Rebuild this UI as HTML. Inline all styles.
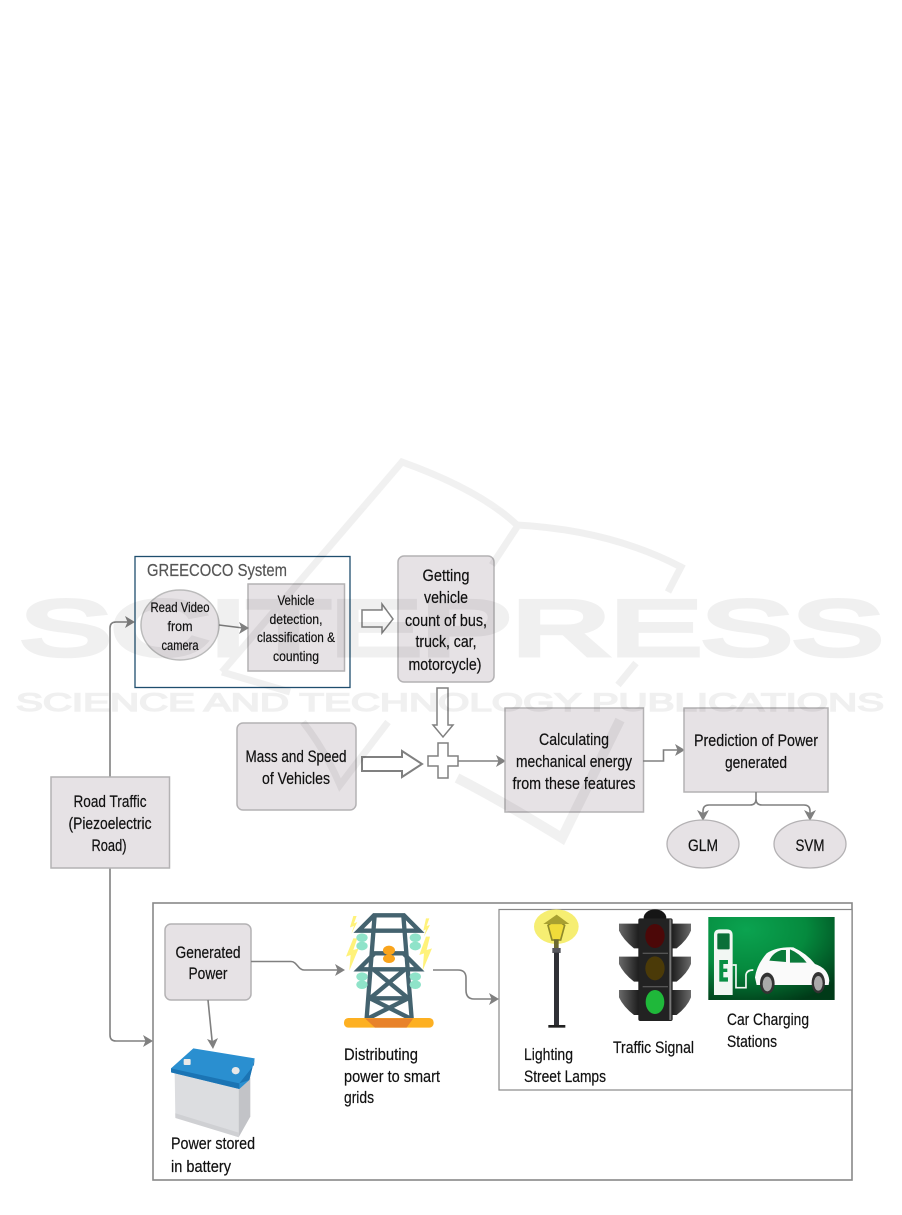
<!DOCTYPE html>
<html><head><meta charset="utf-8"><style>
html,body{margin:0;padding:0;background:#fff}
svg{display:block}
text{font-family:"Liberation Sans",sans-serif;fill:#111;stroke:#111;stroke-width:.2px;font-size:16.500px}
.m{text-anchor:middle}
.s{font-size:14px}
.b{fill:#e6e2e5;stroke:#b4b2b4;stroke-width:1.5}
.c{fill:none;stroke:#808080;stroke-width:1.6}
.a{fill:#808080}
.w{fill:#fff;stroke:#808080;stroke-width:1.5}
</style></head><body>
<svg width="902" height="1215" viewBox="0 0 902 1215" xmlns="http://www.w3.org/2000/svg">
<defs>
<linearGradient id="vl" x1="0" x2="1" y1="0" y2="0"><stop offset="0" stop-color="#6a6a6a"/><stop offset="1" stop-color="#1c1c1c"/></linearGradient>
<linearGradient id="vr" x1="1" x2="0" y1="0" y2="0"><stop offset="0" stop-color="#6a6a6a"/><stop offset="1" stop-color="#1c1c1c"/></linearGradient>
<radialGradient id="g" cx="30%" cy="15%" r="95%"><stop offset="0" stop-color="#0ba350"/><stop offset=".5" stop-color="#058a3e"/><stop offset="1" stop-color="#003a18"/></radialGradient>
</defs>
<rect width="902" height="1215" fill="#fff"/>

<!-- GREECOCO -->
<rect x="135" y="556.500" width="215" height="131" fill="#fff" stroke="#1f4e6e" stroke-width="1.3"/>
<text x="147" y="576" textLength="140" lengthAdjust="spacingAndGlyphs" style="fill:#555;stroke:#555;font-size:17.500px">GREECOCO System</text>
<ellipse cx="180" cy="625" rx="39" ry="35" fill="#e6e2e5" stroke="#bbb" stroke-width="1.5"/>
<text class="m s" x="180" y="612" textLength="59" lengthAdjust="spacingAndGlyphs">Read Video</text>
<text class="m s" x="180" y="631" textLength="25" lengthAdjust="spacingAndGlyphs">from</text>
<text class="m s" x="180" y="650" textLength="37" lengthAdjust="spacingAndGlyphs">camera</text>
<rect class="b" x="248" y="584" width="96.500" height="87"/>
<text class="m s" x="296" y="605" textLength="37" lengthAdjust="spacingAndGlyphs">Vehicle</text>
<text class="m s" x="296" y="624" textLength="53" lengthAdjust="spacingAndGlyphs">detection,</text>
<text class="m s" x="296" y="642" textLength="78" lengthAdjust="spacingAndGlyphs">classification &amp;</text>
<text class="m s" x="296" y="661" textLength="46" lengthAdjust="spacingAndGlyphs">counting</text>
<path class="c" d="M219 625 L243 628"/>
<path class="a" d="M249 628 L239 622 L241.500 628 L239 634Z"/>

<!-- block arrows -->
<path class="w" d="M362 610 H382 V604 L393 619 L382 633 V627 H362Z"/>
<path class="w" d="M437 688 H448 V725 H453 L443 737 L433 725 H437Z"/>
<path class="w" d="M362 757 H402 V751 L422 764 L402 777 V771 H362Z" style="stroke-width:2"/>
<path class="w" d="M438 743 H448 V756 H458 V766 H448 V778 H438 V766 H428 V756 H438Z"/>

<!-- Getting -->
<rect class="b" x="398" y="556" width="96" height="126" rx="6"/>
<text class="m" x="446" y="581" textLength="47" lengthAdjust="spacingAndGlyphs">Getting</text>
<text class="m" x="446" y="603" textLength="44" lengthAdjust="spacingAndGlyphs">vehicle</text>
<text class="m" x="446" y="626" textLength="82" lengthAdjust="spacingAndGlyphs">count of bus,</text>
<text class="m" x="446" y="647" textLength="61" lengthAdjust="spacingAndGlyphs">truck, car,</text>
<text class="m" x="445" y="670" textLength="73" lengthAdjust="spacingAndGlyphs">motorcycle)</text>

<!-- Mass -->
<rect class="b" x="237" y="723" width="119" height="87" rx="6"/>
<text class="m" x="296" y="762" textLength="101" lengthAdjust="spacingAndGlyphs">Mass and Speed</text>
<text class="m" x="296" y="784" textLength="68" lengthAdjust="spacingAndGlyphs">of Vehicles</text>

<!-- Calculating -->
<path class="c" d="M458 761 H500"/>
<path class="a" d="M506 761 L496 755 L498.500 761 L496 767Z"/>
<rect class="b" x="505" y="708" width="138.500" height="104"/>
<text class="m" x="574" y="745" textLength="70" lengthAdjust="spacingAndGlyphs">Calculating</text>
<text class="m" x="574" y="767" textLength="116" lengthAdjust="spacingAndGlyphs">mechanical energy</text>
<text class="m" x="574" y="789" textLength="123" lengthAdjust="spacingAndGlyphs">from these features</text>

<!-- Prediction -->
<path class="c" d="M643 761 H663.500 V750 H680"/>
<path class="a" d="M685 750 L675 744 L677.500 750 L675 756Z"/>
<rect class="b" x="684" y="708" width="144" height="84"/>
<text class="m" x="756" y="746" textLength="124" lengthAdjust="spacingAndGlyphs">Prediction of Power</text>
<text class="m" x="756" y="768" textLength="62" lengthAdjust="spacingAndGlyphs">generated</text>

<path class="c" d="M756 792 V799 Q756 805 750 805 H709 Q703 805 703 811 V816 M756 799 Q756 805 762 805 H804 Q810 805 810 811 V816"/>
<path class="a" d="M703 821 L697 810 L703 813 L709 810Z"/>
<path class="a" d="M810 821 L804 810 L810 813 L816 810Z"/>
<ellipse cx="703" cy="844" rx="36" ry="24" fill="#e6e2e5" stroke="#b4b2b4" stroke-width="1.3"/>
<ellipse cx="810" cy="844" rx="36" ry="24" fill="#e6e2e5" stroke="#b4b2b4" stroke-width="1.3"/>
<text class="m" x="703" y="851" textLength="30" lengthAdjust="spacingAndGlyphs">GLM</text>
<text class="m" x="810" y="851" textLength="29" lengthAdjust="spacingAndGlyphs">SVM</text>

<!-- Road traffic -->
<path class="c" d="M110 777 V628 Q110 622 116 622 H130"/>
<path class="a" d="M135 622 L125 616 L127.500 622 L125 628Z"/>
<path class="c" d="M110 868 V1035 Q110 1041 116 1041 H148"/>
<path class="a" d="M153 1041 L143 1035 L145.500 1041 L143 1047Z"/>
<rect class="b" x="51" y="777" width="118.500" height="91"/>
<text class="m" x="110" y="807" textLength="73" lengthAdjust="spacingAndGlyphs">Road Traffic</text>
<text class="m" x="110" y="829" textLength="83" lengthAdjust="spacingAndGlyphs">(Piezoelectric</text>
<text class="m" x="109" y="851" textLength="35" lengthAdjust="spacingAndGlyphs">Road)</text>

<!-- Bottom containers -->
<rect x="153" y="903" width="699" height="277" fill="#fff" stroke="#888" stroke-width="1.6"/>
<rect x="499" y="909.500" width="353" height="180.500" fill="#fff" stroke="#888" stroke-width="1.2"/>

<rect class="b" x="165" y="924" width="86" height="76" rx="6"/>
<text class="m" x="208" y="958" textLength="65" lengthAdjust="spacingAndGlyphs">Generated</text>
<text class="m" x="208" y="979" textLength="39" lengthAdjust="spacingAndGlyphs">Power</text>
<path class="c" d="M251 961.500 H291 C297 961.500 298 970 304 970 H340"/>
<path class="a" d="M345 970 L335 964 L337.500 970 L335 976Z"/>
<path class="c" d="M208 1000 L212.500 1045"/>
<path class="a" d="M213 1049 L207 1039 L212.500 1041 L218 1038Z"/>
<path class="c" d="M433 970 H458 Q466 970 466 978 V990 Q466 999 474 999 H494"/>
<path class="a" d="M499 999 L489 993 L491.500 999 L489 1005Z"/>

<!-- Tower: zoom coords -->
<g transform="translate(140,890) scale(.3333)">
<path d="M640 78 L630 112 L642 108 L634 132 L652 96 L642 100 L650 78Z" fill="#fff27a"/>
<path d="M640 145 L618 200 L632 195 L628 242 L656 175 L640 180 L652 145Z" fill="#fff27a"/>
<path d="M858 85 L850 122 L858 118 L852 140 L870 105 L860 108 L868 85Z" fill="#fff27a"/>
<path d="M858 140 L838 195 L852 190 L848 242 L876 175 L860 180 L870 140Z" fill="#fff27a"/>
<g fill="none" stroke="#44636f" stroke-width="13">
<path d="M702 76 H792 L838 122 H656Z"/>
<path d="M704 190 H790 L838 238 H656Z"/>
<path d="M704 76 L680 385 M790 76 L815 385"/>
<path d="M702 240 L805 325 L685 385 M793 240 L690 325 L810 385"/>
<path d="M692 325 H805"/>
</g>
<g fill="#8fe3c9">
<ellipse cx="666" cy="143" rx="17" ry="13"/><ellipse cx="666" cy="168" rx="17" ry="13"/>
<ellipse cx="826" cy="143" rx="17" ry="13"/><ellipse cx="826" cy="168" rx="17" ry="13"/>
<ellipse cx="666" cy="260" rx="17" ry="13"/><ellipse cx="666" cy="284" rx="17" ry="13"/>
<ellipse cx="826" cy="260" rx="17" ry="13"/><ellipse cx="826" cy="284" rx="17" ry="13"/>
</g>
<ellipse cx="747" cy="181" rx="18" ry="14" fill="#f9a41c"/><ellipse cx="747" cy="206" rx="18" ry="13" fill="#f9a41c"/>
<rect x="612" y="384" width="269" height="29" rx="13" fill="#fdb022"/>
<path d="M675 385 H820 L800 413 H705Z" fill="#e8822a"/>

<!-- battery -->
<path d="M104 545 L296 597 L296 742 L106 680Z" fill="#dcdde0"/>
<path d="M296 597 L331 562 V680 L296 742Z" fill="#c2c3c7"/>
<path d="M106 670 L296 728 V742 L106 684Z" fill="#cfd0d3"/>
<path d="M93 535 L160 475 L344 505 L328 570 L298 597 L93 547Z" fill="#2a8fd0"/>
<path d="M93 535 L298 580 V597 L93 547Z" fill="#1b74b4"/>
<path d="M298 580 L342 525 L344 505 L328 570Z" fill="#1b74b4"/>
<rect x="131" y="507" width="21" height="18" rx="3" fill="#e8e8e8"/>
<ellipse cx="287" cy="542" rx="12" ry="11" fill="#e8e8e8"/>
</g>

<text x="344" y="1060" textLength="74" lengthAdjust="spacingAndGlyphs">Distributing</text>
<text x="344" y="1082" textLength="96" lengthAdjust="spacingAndGlyphs">power to smart</text>
<text x="344" y="1103" textLength="30" lengthAdjust="spacingAndGlyphs">grids</text>
<text x="171" y="1149" textLength="84" lengthAdjust="spacingAndGlyphs">Power stored</text>
<text x="171" y="1172" textLength="60" lengthAdjust="spacingAndGlyphs">in battery</text>

<!-- icons: zoom coords -->
<g transform="translate(490,890) scale(.3333)">
<!-- lamp -->
<ellipse cx="199" cy="110" rx="67" ry="52" fill="#f6ee72"/>
<path d="M182 100 H216 L224 106 L212 150 H186 L174 106Z" fill="#f0dc3a" stroke="#8f8a2a" stroke-width="5"/>
<path d="M160 102 L200 74 L238 102Z" fill="#a8a030"/>
<rect x="192" y="148" width="14" height="30" fill="#6d6a30"/>
<rect x="187" y="174" width="25" height="15" fill="#55565c"/>
<rect x="192" y="188" width="15" height="218" fill="#2f3036"/>
<rect x="175" y="405" width="51" height="8" fill="#222"/>
<!-- traffic -->
<ellipse cx="495" cy="84" rx="34" ry="26" fill="#151515"/>
<g fill="url(#vl)">
<path d="M387 101 H447 V175 H432 Q400 150 387 122Z"/>
<path d="M387 200 H447 V275 H432 Q400 250 387 222Z"/>
<path d="M387 300 H447 V375 H432 Q400 350 387 322Z"/>
</g>
<g fill="url(#vr)">
<path d="M603 101 H545 V175 H560 Q592 150 603 122Z"/>
<path d="M603 200 H545 V275 H560 Q592 250 603 222Z"/>
<path d="M603 300 H545 V375 H560 Q592 350 603 322Z"/>
</g>
<rect x="445" y="85" width="103" height="308" rx="6" fill="#222"/>
<rect x="538" y="88" width="6" height="302" fill="#777"/>
<rect x="458" y="188" width="76" height="4" fill="#555"/><rect x="458" y="288" width="76" height="4" fill="#555"/>
<ellipse cx="495" cy="138" rx="29" ry="36" fill="#4c0808"/>
<ellipse cx="495" cy="235" rx="29" ry="36" fill="#4b3a08"/>
<ellipse cx="495" cy="336" rx="28" ry="36" fill="#1fb83a"/>
<!-- charging -->
<rect x="655" y="81" width="379" height="249" fill="url(#g)"/>
<path d="M672 315 V135 Q672 118 690 118 H710 Q728 118 728 135 V315Z" fill="#f2f7f3"/>
<rect x="682" y="130" width="37" height="48" rx="3" fill="#0b6f38"/>
<path d="M688 210 H714 V222 H700 V236 H712 V246 H700 V262 H714 V275 H688Z" fill="#0a8f44"/>
<path d="M728 225 H738 V293 H768 V255 Q770 240 790 240" fill="none" stroke="#f2f7f3" stroke-width="5"/>
<path d="M795 262 Q800 225 830 190 Q860 170 910 172 Q950 190 975 222 Q1015 235 1018 272 L1016 285 H800Z" fill="#fafafa"/>
<path d="M838 212 Q848 188 875 180 H888 V216Z M900 178 Q930 190 950 218 H900Z" fill="#0a7a3a"/>
<ellipse cx="832" cy="280" rx="22" ry="32" fill="#333"/><ellipse cx="832" cy="282" rx="14" ry="22" fill="#aaa"/>
<ellipse cx="985" cy="278" rx="20" ry="32" fill="#333"/><ellipse cx="985" cy="280" rx="13" ry="22" fill="#aaa"/>
</g>

<text x="524" y="1060" textLength="49" lengthAdjust="spacingAndGlyphs">Lighting</text>
<text x="524" y="1082" textLength="82" lengthAdjust="spacingAndGlyphs">Street Lamps</text>
<text x="613" y="1053" textLength="81" lengthAdjust="spacingAndGlyphs">Traffic  Signal</text>
<text x="727" y="1025" textLength="82" lengthAdjust="spacingAndGlyphs">Car Charging</text>
<text x="727" y="1047" textLength="50" lengthAdjust="spacingAndGlyphs">Stations</text>

<!-- watermark -->
<g opacity=".055">
<text x="20" y="655" textLength="863" lengthAdjust="spacingAndGlyphs" style="font-size:78px;fill:#000;stroke:#000;stroke-width:5px">SCITEPRESS</text>
<text x="16" y="711" textLength="868" lengthAdjust="spacingAndGlyphs" style="font-size:25px;fill:#000;stroke:#000;stroke-width:1.500px">SCIENCE AND TECHNOLOGY PUBLICATIONS</text>
<g fill="none" stroke="#000" stroke-width="7">
<path d="M222 672 L402 462 Q480 490 517 525 Q610 530 681 567 L668 592"/>
<path d="M517 527 L492 565"/>
<path d="M222 672 L290 692"/>
<path d="M636 663 L618 685"/>
<path d="M388 722 L340 785 Q325 750 303 722"/>
<path d="M620 720 L562 838 Q500 800 457 778" stroke-width="10"/>
</g>
</g>
</svg>
</body></html>
